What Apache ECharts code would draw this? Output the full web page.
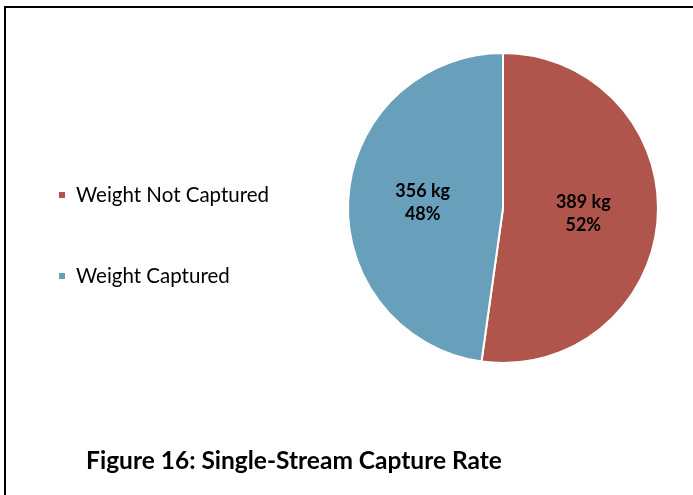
<!DOCTYPE html>
<html><head><meta charset="utf-8">
<script src="https://cdn.jsdelivr.net/npm/echarts@6/dist/echarts.min.js"></script>
<style>html,body{margin:0;padding:0;background:#fff}#c{width:693px;height:495px}</style>
</head><body><div id="c"></div>
<script>
const categories = ["Weight Not Captured", "Weight Captured"];
const weightsKg = [389, 356];
const sliceColors = ["#B0554B", "#689FBA"];
const titleText = "Figure 16: Single-Stream Capture Rate";

const chart = echarts.init(document.getElementById('c'), null, {renderer: 'canvas'});
const total = weightsKg.reduce((a, b) => a + b, 0);
chart.setOption({
  animation: false,
  backgroundColor: '#fff',
  title: {
    text: titleText, left: 289, top: 444, textAlign: 'center',
    textStyle: {fontFamily: 'Lato', fontWeight: 'bold', fontSize: 24.5, color: '#000'}
  },
  legend: {
    orient: 'vertical', left: 52, top: 178, icon: 'rect',
    itemWidth: 8, itemHeight: 8, itemGap: 57,
    textStyle: {fontFamily: 'Lato', fontSize: 20.5, lineHeight: 24, color: '#000', padding: [0, 0, 0, 5]},
    data: categories
  },
  graphic: [{
    type: 'rect', shape: {x: 5, y: 7, width: 720, height: 520},
    style: {fill: 'none', stroke: '#000', lineWidth: 2}, silent: true
  }],
  series: [{
    type: 'pie', center: [503, 208], radius: 155, startAngle: 90, clockwise: true,
    itemStyle: {borderColor: '#fff', borderWidth: 2},
    label: {
      position: 'inside', color: '#000', fontFamily: 'Lato', fontWeight: 'bold', fontSize: 18, lineHeight: 23,
      formatter: p => p.value + ' kg\n' + Math.round(p.value / total * 100) + '%'
    },
    labelLine: {show: false},
    data: categories.map((n, i) => ({name: n, value: weightsKg[i], itemStyle: {color: sliceColors[i]}}))
  }]
});
</script></body></html>
